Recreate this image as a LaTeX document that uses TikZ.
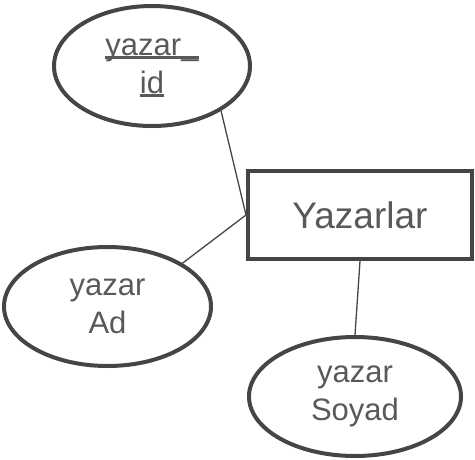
\documentclass[tikz,border=0pt]{standalone}
\usepackage{fontspec}
\setmainfont{Liberation Sans}
\usetikzlibrary{shapes.geometric}
\definecolor{edgegray}{HTML}{454545}
\definecolor{textgray}{HTML}{595959}
\newcommand{\keyul}[1]{\leavevmode\setbox0\hbox{#1}\rlap{\smash{\rule[-3.8pt]{\wd0}{2.6pt}}}\box0}

\begin{document}
\begin{tikzpicture}[x=1pt,y=-1pt,
  attr/.style={ellipse, draw=edgegray, line width=4pt, inner sep=0pt,
    text=textgray, align=center, font=\fontsize{31}{38}\selectfont},
  entity/.style={rectangle, draw=edgegray, line width=4pt, inner sep=0pt,
    text=textgray, font=\fontsize{37}{40}\selectfont}]
\useasboundingbox (0,0) rectangle (475,459);
\node [entity, minimum width=224pt, minimum height=88pt] (yazarlar) at (360,215) {Yazarlar};
\node [attr, minimum width=196pt, minimum height=120pt] (yid) at (152,66) {\keyul{yazar\_}\\\keyul{id}};
\node [attr, minimum width=207pt, minimum height=119pt] (yad) at (107.5,306.5) {yazar\\Ad};
\node [attr, minimum width=212pt, minimum height=119pt] (ysoyad) at (355,396.5) {yazar\\Soyad};
\draw [edgegray, line width=1.3pt] (yid.-33) -- (yazarlar.west);
\draw [edgegray, line width=1.3pt] (yad.30) -- (yazarlar.west);
\draw [edgegray, line width=1.3pt] (yazarlar.south) -- (ysoyad.north);
\end{tikzpicture}
\end{document}
